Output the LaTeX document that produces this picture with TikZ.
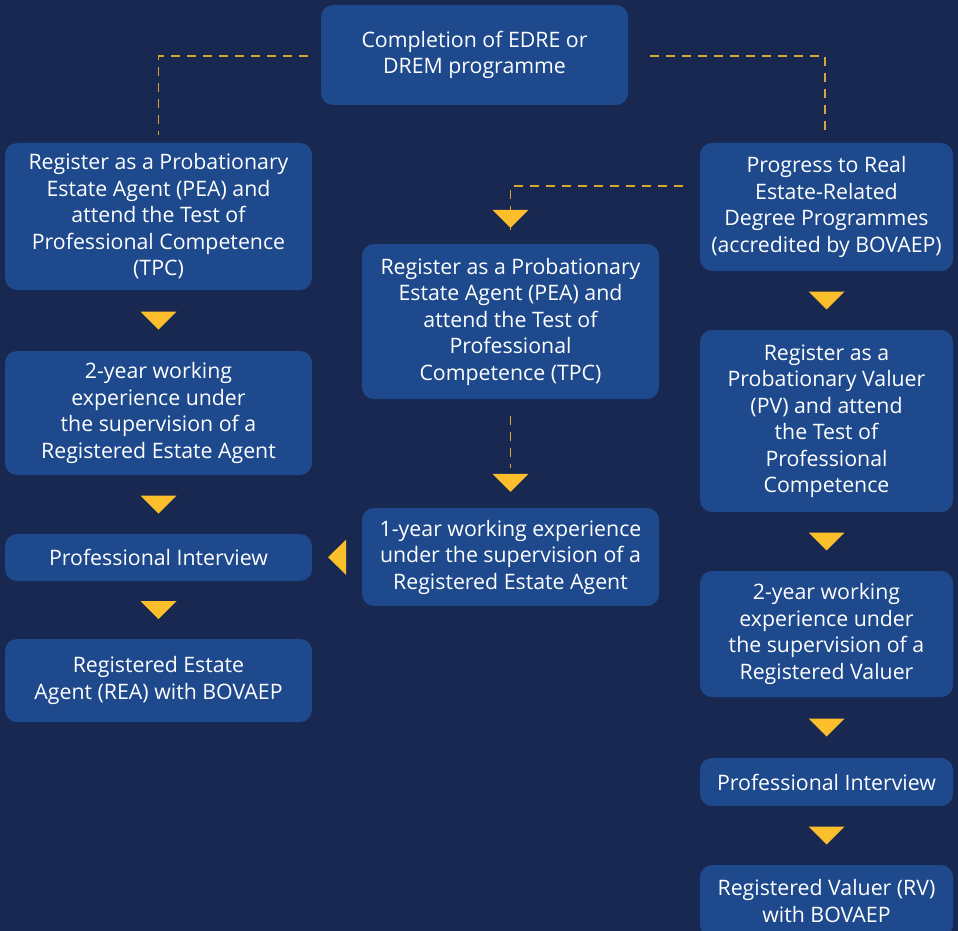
\documentclass[tikz,border=0pt]{standalone}
\usepackage{fontspec}
\setmainfont{Open Sans}
\usetikzlibrary{calc}
\definecolor{bgnavy}{HTML}{182851}
\definecolor{boxblue}{HTML}{1E4A8D}
\definecolor{arrowgold}{HTML}{FBBF2C}
\definecolor{dashgold}{HTML}{D6A532}
\tikzset{
    stepbox/.style={fill=boxblue, rounded corners=12pt, text=white, align=center,
        inner sep=0pt, font=\fontsize{21.3}{26.5}\selectfont},
    dashlink/.style={draw=dashgold, line width=1.6pt, dash pattern=on 9pt off 7pt},
    arrowtri/.style={fill=arrowgold},
}
% filled triangle half way between two nodes, pointing down
\newcommand{\downtri}[2]{\fill[arrowtri] ($(#1.south)!0.5!(#2.north)$) ++(-18,-9) -- ++(36,0) -- ++(-18,18) -- cycle;}
\begin{document}
\begin{tikzpicture}[x=1pt, y=-1pt]
    % Background
    \fill[bgnavy] (0,0) rectangle (958,931);
    \useasboundingbox (0,0) rectangle (958,931);
    \clip (0,0) rectangle (958,931);

    % Start
    \node[stepbox, minimum width=307, minimum height=100] (start) at (474.5,55) {Completion of EDRE or\\DREM programme};

    % Left route
    \node[stepbox, minimum width=307, minimum height=147] (left1) at (158.5,216.5) {Register as a Probationary\\Estate Agent (PEA) and\\attend the Test of\\Professional Competence\\(TPC)};
    \node[stepbox, minimum width=307, minimum height=124] (left2) at (158.5,413) {2-year working\\experience under\\the supervision of a\\Registered Estate Agent};
    \node[stepbox, minimum width=307, minimum height=47] (left3) at (158.5,557.5) {Professional Interview};
    \node[stepbox, minimum width=307, minimum height=83] (left4) at (158.5,680.5) {Registered Estate\\Agent (REA) with BOVAEP};

    % Middle route
    \node[stepbox, minimum width=297, minimum height=155] (mid1) at (510.5,321.5) {Register as a Probationary\\Estate Agent (PEA) and\\attend the Test of\\Professional\\Competence (TPC)};
    \node[stepbox, minimum width=297, minimum height=98] (mid2) at (510.5,557) {1-year working experience\\under the supervision of a\\Registered Estate Agent};

    % Right route
    \node[stepbox, minimum width=253, minimum height=128] (right1) at (826.5,207) {Progress to Real\\Estate-Related\\Degree Programmes\\(accredited by BOVAEP)};
    \node[stepbox, minimum width=253, minimum height=182] (right2) at (826.5,421) {Register as a\\Probationary Valuer\\(PV) and attend\\the Test of\\Professional\\Competence};
    \node[stepbox, minimum width=253, minimum height=126] (right3) at (826.5,634) {2-year working\\experience under\\the supervision of a\\Registered Valuer};
    \node[stepbox, minimum width=253, minimum height=48] (right4) at (826.5,782) {Professional Interview};
    \node[stepbox, minimum width=253, minimum height=72] (right5) at (826.5,901) {Registered Valuer (RV)\\with BOVAEP};

    % Dashed links from the start
    \draw[dashlink] ($(start.west)+(-13,1)$) -| ($(left1.north)+(0,-8)$);
    \draw[dashlink] ($(start.east)+(22,1)$) -| ($(right1.north)+(-1.5,-8)$);

    % Dashed links into the middle route
    \coordinate (midin) at ($(mid1.north)+(0,-34)$);
    \draw[dashlink] ($(right1.west)+(-17,-21)$) -| (midin) -- ++(0,20);
    \fill[arrowtri] ($(mid1.north)+(0,-25)$) ++(-18,-9) -- ++(36,0) -- ++(-18,18) -- cycle;
    \draw[dashlink] ($(mid1.south)+(0,17)$) -- ($(mid2.north)+(0,-40)$);
    \fill[arrowtri] ($(mid2.north)+(0,-25)$) ++(-18,-9) -- ++(36,0) -- ++(-18,18) -- cycle;

    % Middle route joins the interview
    \fill[arrowtri] ($(mid2.west)!0.5!(left3.east)$) ++(9,-17.5) -- ++(0,35) -- ++(-18,-17.5) -- cycle;

    % Triangles between steps
    \downtri{left1}{left2}
    \downtri{left2}{left3}
    \downtri{left3}{left4}
    \downtri{right1}{right2}
    \downtri{right2}{right3}
    \downtri{right3}{right4}
    \downtri{right4}{right5}
\end{tikzpicture}
\end{document}
